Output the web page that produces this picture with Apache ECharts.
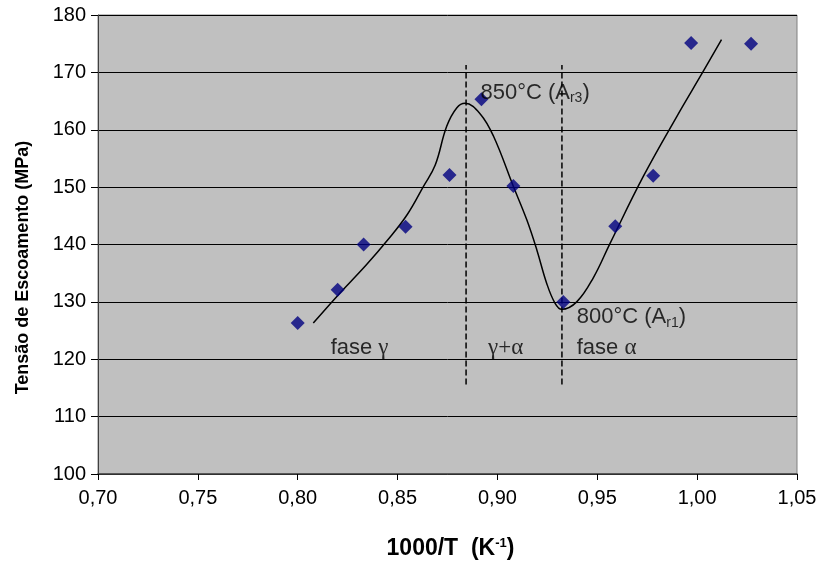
<!DOCTYPE html>
<html>
<head>
<meta charset="utf-8">
<script src="https://cdn.jsdelivr.net/npm/echarts@6/dist/echarts.min.js"></script>
<style>
  html, body { margin: 0; padding: 0; background: #fff; }
  #chart { width: 821px; height: 561px; }
</style>
</head>
<body>
<div id="chart"></div>
<script>
// measured points (1000/T, MPa)
const pointX = [0.800, 0.820, 0.833, 0.854, 0.876, 0.892, 0.908, 0.933, 0.959, 0.978, 0.997, 1.027]
const pointY = [126.3, 132.1, 140.0, 143.1, 152.1, 165.3, 150.2, 130.0, 143.2, 152.0, 175.1, 175.0]

// hand-drawn trend curve, read along its path
const curveX = [0.8078, 0.8195, 0.8345, 0.8446, 0.8546, 0.8629, 0.8688, 0.8746, 0.8796, 0.8838, 0.8913, 0.8980, 0.9080, 0.9147, 0.9197, 0.9246, 0.9288, 0.9322, 0.9397, 0.9480, 0.9564, 0.9731, 0.9898, 1.0031, 1.0122]
const curveY = [126.3, 130.9, 136.5, 140.6, 145.1, 150.1, 153.8, 160.6, 163.8, 164.6, 162.8, 158.9, 150.1, 144.3, 139.1, 133.3, 129.8, 128.7, 130.0, 134.2, 140.2, 151.9, 162.3, 170.2, 175.7]

// phase boundaries
const boundaryX = [0.8843, 0.9323]
const boundaryY = [115.6, 171.3]

const chart = echarts.init(document.getElementById('chart'))

const fontSans = 'Liberation Sans, Arial, sans-serif'
const fontGreek = 'Liberation Serif, Times New Roman, serif'

function pairs(xs, ys) {
  return xs.map((x, i) => [x, ys[i]])
}

const labelRich = {
  t: { fontFamily: fontSans, fontSize: 22, color: '#000' },
  sub: { fontFamily: fontSans, fontSize: 14, color: '#000', padding: [11, 0, 0, 0] },
  g: { fontFamily: fontGreek, fontSize: 23, color: '#000' }
}

const textMarks = [
  { value: [0.8915, 166.5], text: '{t|850°C (A}{sub|r3}{t|)}' },
  { value: [0.9397, 127.3], text: '{t|800°C (A}{sub|r1}{t|)}' },
  { value: [0.8165, 122.0], text: '{t|fase }{g|γ}' },
  { value: [0.8953, 122.0], text: '{g|γ+α}' },
  { value: [0.9397, 122.0], text: '{t|fase }{g|α}' }
]

const option = {
  animation: false,
  grid: {
    left: 98, right: 24, top: 15, bottom: 87,
    outerBoundsMode: 'none',
    show: true,
    backgroundColor: '#C0C0C0',
    borderColor: '#808080',
    borderWidth: 1
  },
  xAxis: {
    type: 'value',
    min: 0.70, max: 1.05, interval: 0.05,
    name: '1000/T  (K{sup|-1})',
    nameLocation: 'middle',
    nameGap: 63,
    nameTextStyle: {
      fontFamily: fontSans, fontSize: 23, fontWeight: 'bold', color: '#000',
      padding: [0, 0, 0, 6],
      rich: { sup: { fontFamily: fontSans, fontSize: 13, fontWeight: 'bold', color: '#000', padding: [0, 0, 11, 0] } }
    },
    axisLine: { show: true, onZero: false, lineStyle: { color: '#404040', width: 1.5 } },
    axisTick: { show: true, length: 6, lineStyle: { color: '#000' } },
    axisLabel: {
      fontFamily: fontSans, fontSize: 20, color: '#000', margin: 14,
      formatter: v => v.toFixed(2).replace('.', ',')
    },
    splitLine: { show: false }
  },
  yAxis: {
    type: 'value',
    min: 100, max: 180, interval: 10,
    name: 'Tensão de Escoamento (MPa)',
    nameLocation: 'middle',
    nameGap: 66,
    nameTextStyle: {
      fontFamily: fontSans, fontSize: 18, fontWeight: 'bold', color: '#000',
      padding: [0, 46, 0, 0]
    },
    axisLine: { show: true, lineStyle: { color: '#404040', width: 1 } },
    axisTick: { show: true, length: 7, lineStyle: { color: '#000' } },
    axisLabel: { fontFamily: fontSans, fontSize: 20, color: '#000', margin: 12 },
    splitLine: { show: true, lineStyle: { color: '#000', width: 1 } }
  },
  series: [
    {
      name: 'curva',
      type: 'line',
      data: pairs(curveX, curveY),
      smooth: 0.4,
      symbol: 'none',
      lineStyle: { color: '#000', width: 1.5 },
      z: 3
    },
    {
      name: 'fronteira1',
      type: 'line',
      data: boundaryY.map(y => [boundaryX[0], y]),
      symbol: 'none',
      lineStyle: { color: '#000', width: 1.5, type: [6, 3] },
      z: 2
    },
    {
      name: 'fronteira2',
      type: 'line',
      data: boundaryY.map(y => [boundaryX[1], y]),
      symbol: 'none',
      lineStyle: { color: '#000', width: 1.5, type: [6, 3] },
      z: 2
    },
    {
      name: 'medidas',
      type: 'scatter',
      data: pairs(pointX, pointY),
      symbol: 'diamond',
      symbolSize: [14, 14],
      itemStyle: { color: '#000080' },
      z: 4
    },
    {
      name: 'textos',
      type: 'scatter',
      symbolSize: 0,
      silent: true,
      data: textMarks.map(m => ({
        value: m.value,
        label: {
          show: true,
          position: 'right',
          distance: 0,
          formatter: m.text,
          rich: labelRich
        }
      })),
      z: 5
    }
  ]
}

chart.setOption(option)
</script>
</body>
</html>
